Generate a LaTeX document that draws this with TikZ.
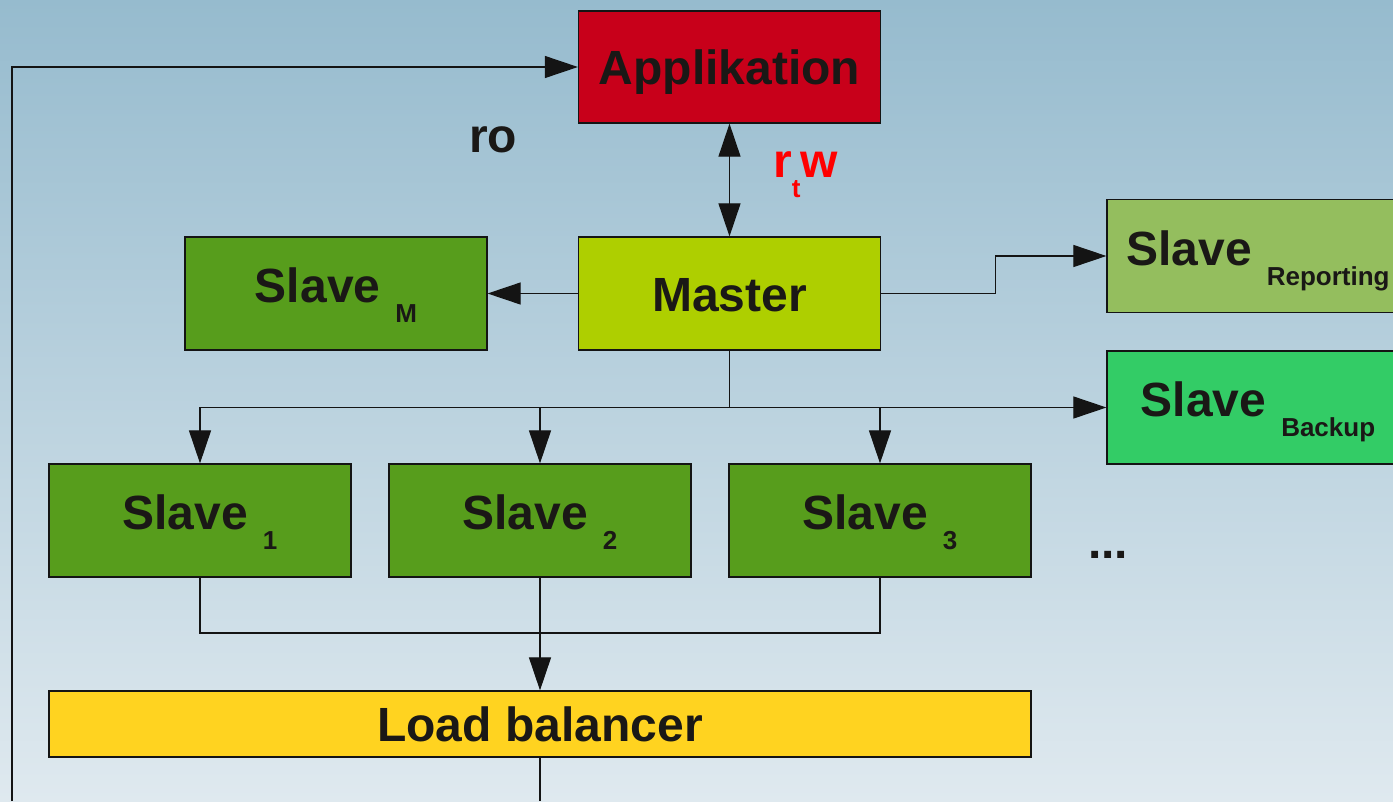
\documentclass[tikz,border=0pt]{standalone}
\usepackage{fontspec}
\setmainfont{Liberation Sans}
\usetikzlibrary{arrows.meta}
\definecolor{bgtop}{RGB}{150,187,206}
\definecolor{bgbot}{RGB}{223,233,239}
\definecolor{appc}{RGB}{200,0,26}
\definecolor{masterc}{RGB}{174,207,0}
\definecolor{slavec}{RGB}{87,157,28}
\definecolor{repc}{RGB}{148,190,94}
\definecolor{backc}{RGB}{51,204,102}
\definecolor{lbc}{RGB}{255,211,32}
\definecolor{linec}{RGB}{20,20,20}
\definecolor{txtc}{RGB}{26,24,22}
\newcommand\subtxt[1]{\hspace{15pt}\raisebox{-20pt}[0pt][0pt]{\fontsize{26}{30}\selectfont #1}}
\begin{document}
\begin{tikzpicture}[x=1pt,y=-1pt,
  boxnode/.style={draw=linec,line width=1.2pt,rectangle,inner sep=0pt,
    minimum width=302pt,minimum height=113pt,text=txtc,
    font=\fontsize{48}{56}\selectfont\bfseries,text height=35pt,text depth=0pt},
  subnode/.style={boxnode,text height=36pt,text depth=18pt},
  conn/.style={draw=linec,line width=1.1pt},
  arr/.style={conn,-{Triangle[length=33pt,width=22pt]}},
  dblarr/.style={conn,{Triangle[length=33pt,width=22pt]}-{Triangle[length=33pt,width=22pt]}},
  lbl/.style={inner sep=0pt,anchor=base west,font=\fontsize{48}{56}\selectfont\bfseries}
]
\useasboundingbox (0,0) rectangle (1393,801);
\clip (0,0) rectangle (1393,801);
\shade[top color=bgtop,bottom color=bgbot] (0,0) rectangle (1393,801);

\node[boxnode,fill=appc,minimum height=112pt] (app) at (729.5,67) {Applikation};
\node[boxnode,fill=masterc] (master) at (729.5,293.5) {Master};
\node[subnode,fill=slavec] (slaveM) at (336,293.5) {Slave\subtxt{M}};
\node[subnode,fill=repc] (rep) at (1258,256) {Slave\subtxt{Reporting}};
\node[subnode,fill=backc] (backup) at (1258,407.5) {Slave\subtxt{Backup}};
\node[subnode,fill=slavec] (s1) at (200,520.5) {Slave\subtxt{1}};
\node[subnode,fill=slavec] (s2) at (540,520.5) {Slave\subtxt{2}};
\node[subnode,fill=slavec] (s3) at (880,520.5) {Slave\subtxt{3}};
\node[boxnode,fill=lbc,minimum width=982pt,minimum height=66pt] (lb) at (540,724) {Load balancer};

\node[lbl,text=txtc] (ro) at (469,152) {ro};
\node[lbl,text=red] (rtw) at (773,177) {r\raisebox{-20pt}[0pt][0pt]{\fontsize{26}{30}\selectfont t}w};
\node[lbl,text=txtc] (dots) at (1088,558) {...};

\coordinate (loopB) at (12,801);
\coordinate (split) at (729.5,407.5);
\coordinate (join) at (540,633);
\coordinate (lbout) at (540,801);

\draw[arr] (loopB) |- (app.west);
\draw[dblarr] (app.south) -- (master.north);
\draw[arr] (master.west) -- (slaveM.east);
\draw[arr] (master.east) -- ++(114,0) |- (rep.west);
\draw[conn] (master.south) -- (split);
\draw[arr] (split) -| (s1.north);
\draw[arr] (split) -| (s2.north);
\draw[arr] (split) -| (s3.north);
\draw[arr] (split) -- (backup.west);
\draw[conn] (s1.south) |- (s3.south |- join) -- (s3.south);
\draw[arr] (s2.south) -- (lb.north);
\draw[conn] (lb.south) -- (lbout);
\end{tikzpicture}
\end{document}
